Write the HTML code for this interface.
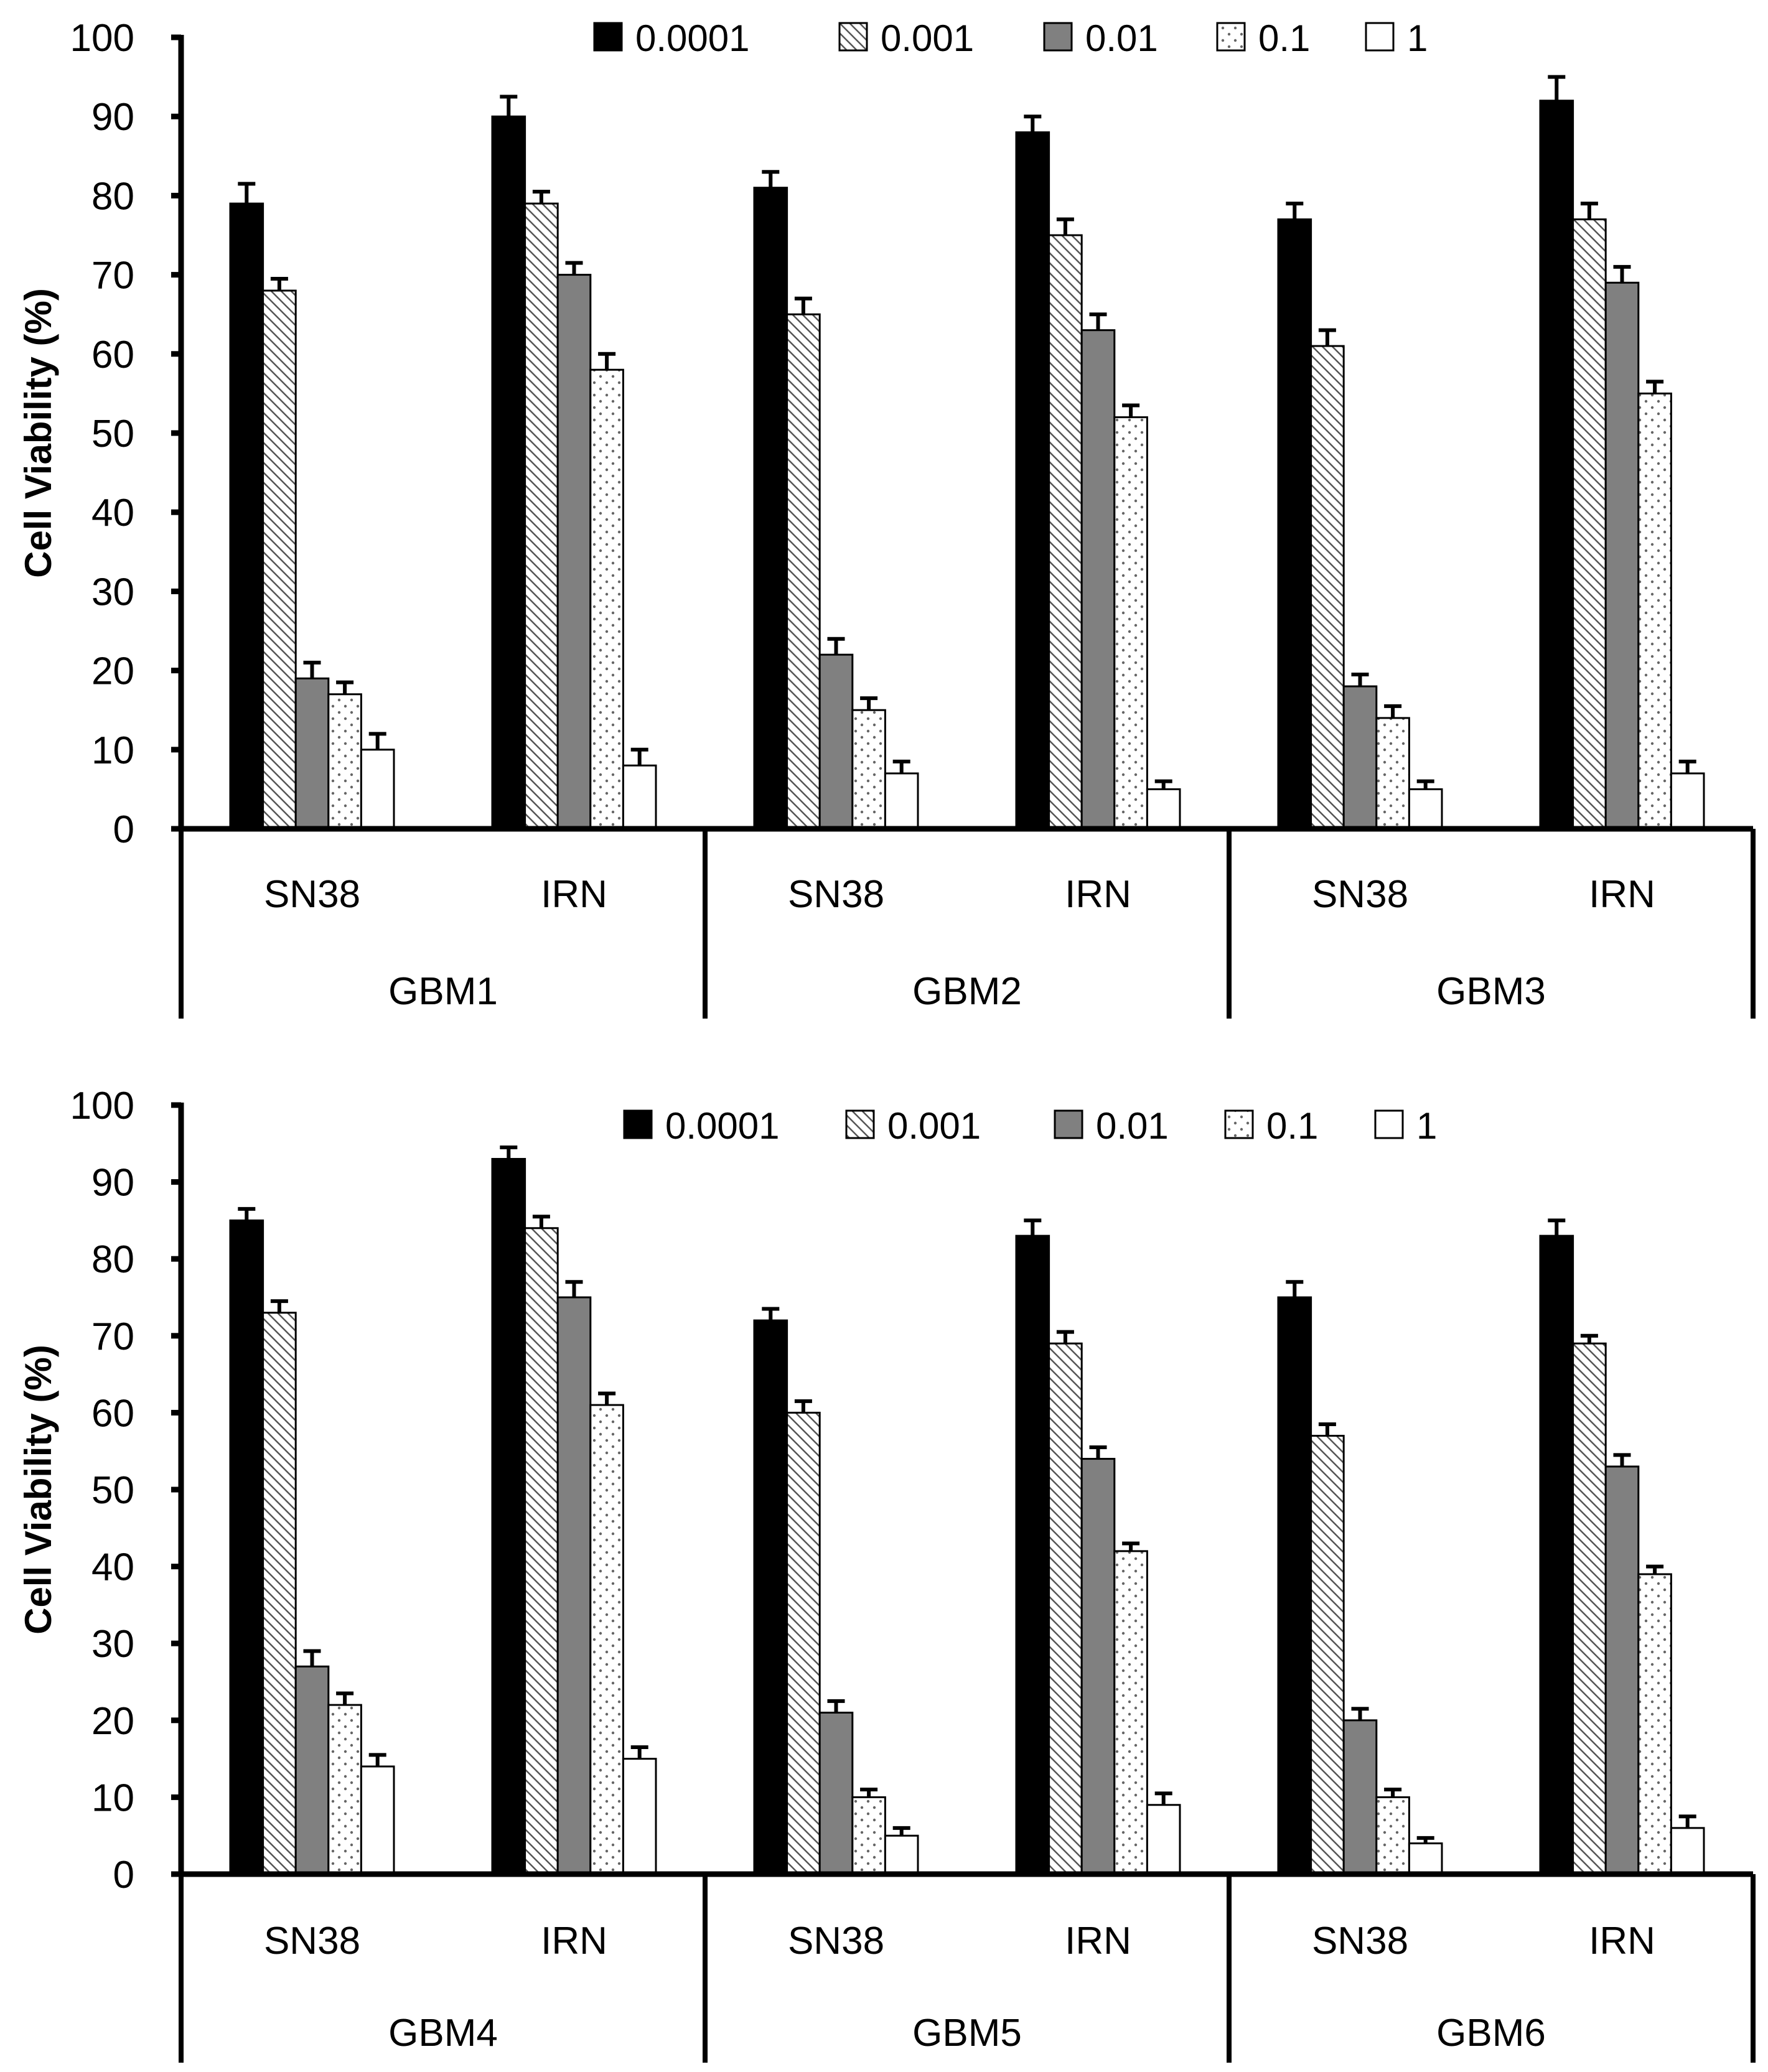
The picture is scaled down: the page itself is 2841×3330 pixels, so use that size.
<!DOCTYPE html>
<html><head><meta charset="utf-8"><style>
html,body{margin:0;padding:0;background:#fff}
svg{display:block}
text{font-family:"Liberation Sans",sans-serif;fill:#000}
</style></head><body>
<svg id="chart" width="2841" height="3330" viewBox="0 0 2841 3330" xmlns="http://www.w3.org/2000/svg">
<defs>
<pattern id="hatch" patternUnits="userSpaceOnUse" width="16" height="16">
<rect width="16" height="16" fill="#fff"/>
<path d="M-4,-4 L20,20 M-4,12 L4,20 M12,-4 L20,4" stroke="#555" stroke-width="2.5"/>
</pattern>
<pattern id="dots" patternUnits="userSpaceOnUse" width="20" height="20">
<rect width="20" height="20" fill="#fff"/>
<circle cx="5" cy="5" r="2.2" fill="#666"/>
<circle cx="15" cy="15" r="2.2" fill="#666"/>
</pattern>
</defs>
</svg>
<script>
const seriesNames = ["0.0001","0.001","0.01","0.1","1"];
const drugs = ["SN38","IRN"];
const groupsTop = ["GBM1","GBM2","GBM3"];
const groupsBottom = ["GBM4","GBM5","GBM6"];
const yTicks = [0,10,20,30,40,50,60,70,80,90,100];
const valuesTop = [
 [[79,68,19,17,10],[90,79,70,58,8]],
 [[81,65,22,15,7],[88,75,63,52,5]],
 [[77,61,18,14,5],[92,77,69,55,7]]
];
const errorsTop = [
 [[2.5,1.5,2,1.5,2],[2.5,1.5,1.5,2,2]],
 [[2,2,2,1.5,1.5],[2,2,2,1.5,1]],
 [[2,2,1.5,1.5,1],[3,2,2,1.5,1.5]]
];
const valuesBottom = [
 [[85,73,27,22,14],[93,84,75,61,15]],
 [[72,60,21,10,5],[83,69,54,42,9]],
 [[75,57,20,10,4],[83,69,53,39,6]]
];
const errorsBottom = [
 [[1.5,1.5,2,1.5,1.5],[1.5,1.5,2,1.5,1.5]],
 [[1.5,1.5,1.5,1,1],[2,1.5,1.5,1,1.5]],
 [[2,1.5,1.5,1,0.7],[2,1,1.5,1,1.5]]
];
const fills = ["#000","url(#hatch)","#808080","url(#dots)","#fff"];
const NS="http://www.w3.org/2000/svg";
const svg=document.getElementById('chart');
function mk(tag,attrs,parent){const e=document.createElementNS(NS,tag);for(const k in attrs)e.setAttribute(k,attrs[k]);(parent||svg).appendChild(e);return e;}

function drawPanel(p){
  const g=mk('g',{});
  
  
  const x0=291,x1=2817;
  const y=v=>p.y0-(v/100)*(p.y0-p.y100);
  const gw=(x1-x0)/p.groups.length, bw=52.6;
  p.groups.forEach((gn,gi)=>{
    drugs.forEach((dn,di)=>{
      const cx=x0+gi*gw+gw*(di*2+1)/4;
      const start=cx-bw*seriesNames.length/2;
      seriesNames.forEach((sn,si)=>{
        const v=p.values[gi][di][si], e=p.errors[gi][di][si];
        const bx=start+si*bw;
        const r=mk('rect',{x:bx,y:y(v),width:bw,height:y(0)-y(v),fill:fills[si],stroke:'#000','stroke-width':3},g);
        
        
        const eb=mk('path',{d:`M${bx+bw/2},${y(v)} V${y(v+e)} M${bx+bw/2-14},${y(v+e)} H${bx+bw/2+14}`,stroke:'#000','stroke-width':6,fill:'none'},g);
        
        
      });
      const t=mk('text',{x:cx,y:p.labelY,'font-size':62,'text-anchor':'middle'},g);
      t.textContent=dn;
      
      
    });
    const t=mk('text',{x:x0+gi*gw+gw/2,y:p.groupY,'font-size':62,'text-anchor':'middle'},g);
    t.textContent=gn;
    
    
  });
  const ya=mk('line',{x1:x0,y1:p.y100-4,x2:x0,y2:y(0),stroke:'#000','stroke-width':9},g);
  
  
  const xa=mk('line',{x1:x0-16,y1:y(0),x2:x1,y2:y(0),stroke:'#000','stroke-width':9},g);
  
  
  for(let i=0;i<=p.groups.length;i++){
    const dx=x0+i*gw;
    const d=mk('line',{x1:dx,y1:y(0),x2:dx,y2:p.divBottom,stroke:'#000','stroke-width':8},g);
    
    
  }
  yTicks.forEach(v=>{
    const tk=mk('line',{x1:x0-16,y1:y(v),x2:x0,y2:y(v),stroke:'#000','stroke-width':9},g);
    
    
    const t=mk('text',{x:216,y:y(v)+22,'font-size':62,'text-anchor':'end'},g);
    t.textContent=v;
    
    
  });
  const yt=mk('text',{x:0,y:0,'font-size':60,'font-weight':'bold','text-anchor':'middle',transform:`translate(${82},${(y(0)+p.y100)/2}) rotate(-90)`},g);
  yt.textContent='Cell Viability (%)';
  
  
  seriesNames.forEach((sn,si)=>{
    const lx=p.legendX[si];
    const r=mk('rect',{x:lx,y:p.legendY-23,width:44,height:44,fill:fills[si],stroke:'#000','stroke-width':3},g);
    
    
    const t=mk('text',{x:lx+66,y:p.legendY+22,'font-size':60},g);
    t.textContent=sn;
    
    
  });
}
drawPanel({name:'top-chart',groups:groupsTop,values:valuesTop,errors:errorsTop,y0:1332,y100:60,labelY:1458,groupY:1614,divBottom:1637,legendX:[955,1349,1678,1956,2195],legendY:60});
drawPanel({name:'bottom-chart',groups:groupsBottom,values:valuesBottom,errors:errorsBottom,y0:3012,y100:1776,labelY:3140,groupY:3288,divBottom:3315,legendX:[1003,1360,1695,1969,2210],legendY:1808});
</script>
</body></html>
